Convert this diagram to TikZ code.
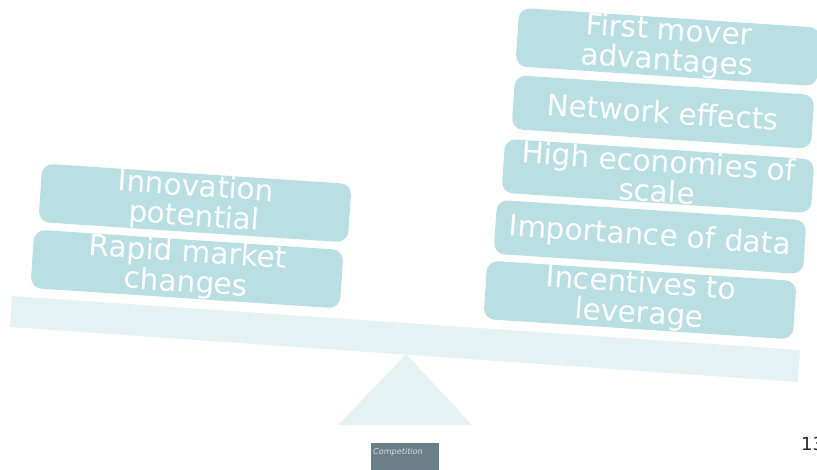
\documentclass[tikz,border=0pt]{standalone}
\usepackage{fontspec}
\setmainfont{DejaVu Sans}
\begin{document}
\begin{tikzpicture}[x=1pt,y=-1pt,
  factor/.style={draw=none, fill=boxteal, rounded corners=11pt, rotate=-3.8,
    minimum width=310pt, minimum height=54pt, inner sep=0pt, align=center,
    text=white, font=\fontsize{29.5}{30}\selectfont},
  support/.style={fill=beamteal, draw=none}]
\definecolor{boxteal}{HTML}{BADFE3}
\definecolor{beamteal}{HTML}{E5F2F4}
\definecolor{tagslate}{HTML}{6A7E88}
\useasboundingbox (0,0) rectangle (817,470);

% seesaw: tilted beam and fulcrum
\fill[support] (12,296) -- (800,350) -- (798,382) -- (10,327) -- cycle;
\fill[support] (406,354) -- (472,425) -- (338,425) -- cycle;

% left pan
\node[factor] (innov) at (195,203) {Innovation\\potential};
\node[factor] (rapid) at (187,269) {Rapid market\\changes};

% right pan
\node[factor, minimum width=302pt] (first) at (668,47) {First mover\\advantages};
\node[factor, minimum width=300pt] (netw) at (663,112) {Network effects};
\node[factor] (scale) at (658,176) {High economies of\\scale};
\node[factor] (data) at (650,237) {Importance of data};
\node[factor] (lever) at (640,300) {Incentives to\\leverage};

% caption tag and page number
\node[fill=tagslate, minimum width=68pt, minimum height=30pt, inner sep=0pt,
  anchor=north west] (tag) at (371,443) {};
\node[anchor=base west, inner sep=0pt, text=white!75!tagslate,
  font=\fontsize{8.1}{9}\selectfont\itshape] (tagtext) at (373,454) {Competition};
\node[anchor=base west, inner sep=0pt, text=black!85,
  font=\fontsize{18}{18}\selectfont] (page) at (801,450) {13};
\end{tikzpicture}
\end{document}
